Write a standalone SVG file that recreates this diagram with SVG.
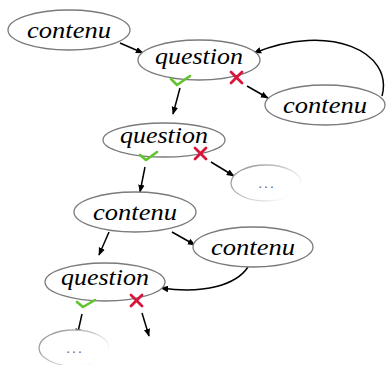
<svg xmlns="http://www.w3.org/2000/svg" width="386" height="365" viewBox="0 0 386 365">
<style>
.n{fill:#fff;stroke:#7a7a7a;stroke-width:1.3}
.t{font-family:"Liberation Serif",serif;font-style:italic;font-size:23px;fill:#000;text-anchor:middle}
.e{fill:none;stroke:#000;stroke-width:1.5;marker-end:url(#a)}
.ok{fill:none;stroke:#5fc52a;stroke-width:2.6;stroke-linecap:round;stroke-linejoin:round}
.ko{fill:none;stroke:#d8143a;stroke-width:2.8;stroke-linecap:round}
.d{fill:#666}
</style>
<defs>
<marker id="a" viewBox="0 0 10 10" refX="9" refY="5" markerWidth="8" markerHeight="8" orient="auto" markerUnits="userSpaceOnUse"><path d="M0,1 L10,5 L0,9 z" fill="#000"/></marker>
<linearGradient id="f" x1="0" y1="0" x2="1" y2="0.6"><stop offset="0" stop-color="#888"/><stop offset="0.6" stop-color="#ccc"/><stop offset="1" stop-color="#fff"/></linearGradient>
</defs>
<g id="connectors">
<path class="e" d="M120,43 L143,53"/>
<path class="e" d="M382,96 C394,52 330,22 254,53"/>
<path class="e" d="M247,86 L268,98"/>
<path class="e" d="M180,88 L173,114"/>
<path class="e" d="M211,162 L234,176"/>
<path class="e" d="M145,167 L140,192"/>
<path class="e" d="M109,232 L99,255"/>
<path class="e" d="M172,232 L195,245"/>
<path class="e" d="M248,267 C236,285 205,294 161,288"/>
<path class="e" d="M82,314 L77,336"/>
<path class="e" d="M142,313 L149,336"/>
</g>
<g id="n1"><ellipse class="n" cx="69" cy="30" rx="61" ry="20"/><text class="t" x="69" y="38" textLength="84" lengthAdjust="spacingAndGlyphs">contenu</text></g>
<g id="n2"><ellipse class="n" cx="199" cy="60" rx="61" ry="20"/><text class="t" x="199" y="64" textLength="88" lengthAdjust="spacingAndGlyphs">question</text>
<path class="ok" d="M171,79 L177,85 L190,76"/><path class="ko" d="M231,72 L242,83 M242,72 L231,83"/></g>
<g id="n3"><ellipse class="n" cx="325" cy="105" rx="60" ry="20"/><text class="t" x="325" y="113" textLength="84" lengthAdjust="spacingAndGlyphs">contenu</text></g>
<g id="n4"><ellipse class="n" cx="164" cy="140" rx="61" ry="17"/><text class="t" x="164" y="143" textLength="88" lengthAdjust="spacingAndGlyphs">question</text>
<path class="ok" d="M140,155 L146,160 L157,152"/><path class="ko" d="M195,148 L206,159 M206,148 L195,159"/></g>
<g id="n5"><ellipse fill="#fff" stroke="url(#f)" stroke-width="1.3" cx="266" cy="183" rx="35" ry="18"/><text x="267" y="188" font-family="Liberation Sans, sans-serif" font-size="14" letter-spacing="2" text-anchor="middle" class="d">...</text></g>
<g id="n6"><ellipse class="n" cx="135" cy="212" rx="61" ry="20"/><text class="t" x="135" y="220" textLength="84" lengthAdjust="spacingAndGlyphs">contenu</text></g>
<g id="n7"><ellipse class="n" cx="253" cy="247" rx="60" ry="20"/><text class="t" x="253" y="255" textLength="84" lengthAdjust="spacingAndGlyphs">contenu</text></g>
<g id="n8"><ellipse class="n" cx="105" cy="282" rx="60" ry="19"/><text class="t" x="105" y="285" textLength="88" lengthAdjust="spacingAndGlyphs">question</text>
<path class="ok" d="M77,302 L83,307 L95,300"/><path class="ko" d="M131,295 L142,306 M142,295 L131,306"/></g>
<g id="n9"><ellipse fill="#fff" stroke="url(#f)" stroke-width="1.3" cx="74" cy="348" rx="35" ry="18"/><text x="75" y="353" font-family="Liberation Sans, sans-serif" font-size="14" letter-spacing="2" text-anchor="middle" class="d">...</text></g>
</svg>
